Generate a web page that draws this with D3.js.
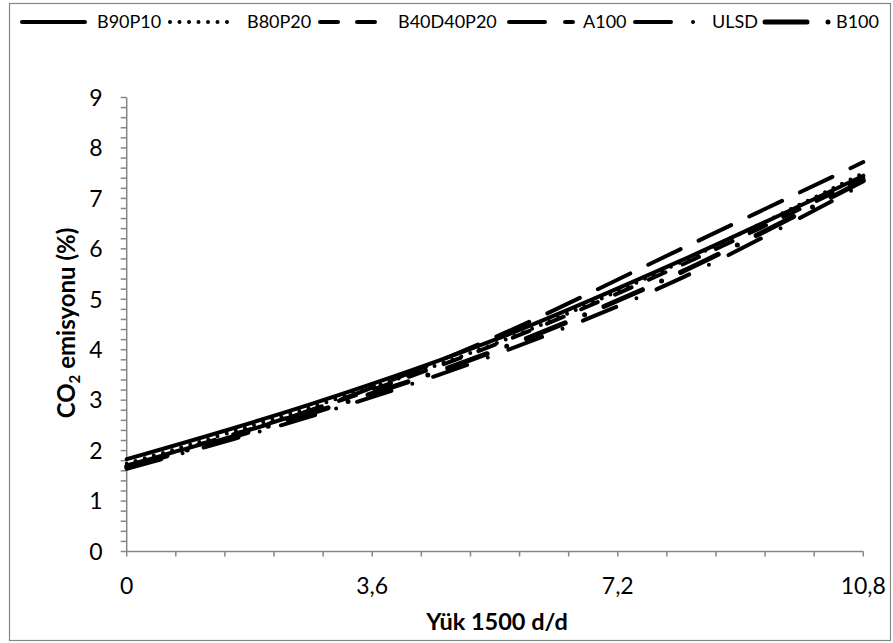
<!DOCTYPE html>
<html>
<head>
<meta charset="utf-8">
<script src="https://cdn.jsdelivr.net/npm/d3@7"></script>
<style>
  html, body { margin: 0; padding: 0; background: #fff; }
  svg { display: block; }
  text { font-family: Lato, "Open Sans", sans-serif; fill: #000; }
</style>
</head>
<body>
<svg id="chart" width="893" height="643"></svg>
<script>
// Load points (x axis, "Yük 1500 d/d")
const loads = [0, 2.7, 5.4, 8.1, 10.8];

// CO2 emission (%) per fuel
const b90p10    = [1.83, 2.92, 4.20, 5.75, 7.45];
const b80p20    = [1.74, 2.86, 4.12, 5.72, 7.50];
const b40d40p20 = [1.70, 2.80, 4.10, 5.66, 7.40];
const a100      = [1.70, 2.80, 4.25, 5.98, 7.72];
const ulsd      = [1.64, 2.68, 3.90, 5.40, 7.28];
const b100      = [1.67, 2.74, 3.98, 5.52, 7.35];

const seriesNames = ["B90P10", "B80P20", "B40D40P20", "A100", "ULSD", "B100"];
const seriesValues = [b90p10, b80p20, b40d40p20, a100, ulsd, b100];

const xTicks = [0, 3.6, 7.2, 10.8];
const yTicks = [0, 1, 2, 3, 4, 5, 6, 7, 8, 9];

// Line styles for each series
const styles = [
  { width: 4, dash: null },
  { width: 4, dash: "0,9.5" },
  { width: 4, dash: "18,19" },
  { width: 4, dash: "36,20" },
  { width: 4, dash: "36,22,0,22" },
  { width: 5, dash: "42,21,0,21" }
];

const svg = d3.select("#chart");
const grey = "#868686";

// outer frame
svg.append("rect")
  .attr("x", 9.5).attr("y", 3.5)
  .attr("width", 881).attr("height", 637)
  .attr("fill", "#fff").attr("stroke", grey).attr("stroke-width", 1.2);

const plot = { left: 126.7, right: 863.3, top: 97.5, bottom: 551.5 };

const x = d3.scaleLinear().domain([0, 10.8]).range([plot.left, plot.right]);
const y = d3.scaleLinear().domain([0, 9]).range([plot.bottom, plot.top]);

const locale = d3.formatLocale({ decimal: ",", thousands: ".", grouping: [3], currency: ["", ""] });
const fmt = locale.format("~g");

// y axis with minor ticks every 0.2
const yMinor = d3.range(0, 9.0001, 0.2);
const yAxis = svg.append("g").attr("transform", `translate(${plot.left},0)`);
yAxis.append("line")
  .attr("x1", 0).attr("x2", 0).attr("y1", y(0)).attr("y2", y(9))
  .attr("stroke", grey).attr("stroke-width", 1.5);
yAxis.selectAll("line.tick").data(yMinor).join("line")
  .attr("class", "tick")
  .attr("x1", -6).attr("x2", 0)
  .attr("y1", d => y(d)).attr("y2", d => y(d))
  .attr("stroke", grey).attr("stroke-width", 1.5);
yAxis.selectAll("text").data(yTicks).join("text")
  .attr("x", -24).attr("y", d => y(d))
  .attr("dy", "0.36em")
  .attr("text-anchor", "end")
  .attr("font-size", 23)
  .text(d => fmt(d));

// x axis with minor ticks every 0.72
const xMinor = d3.range(0, 16).map(i => i * 0.72);
const xAxis = svg.append("g").attr("transform", `translate(0,${plot.bottom})`);
xAxis.append("line")
  .attr("x1", x(0)).attr("x2", x(10.8)).attr("y1", 0).attr("y2", 0)
  .attr("stroke", grey).attr("stroke-width", 1.5);
xAxis.selectAll("line.tick").data(xMinor).join("line")
  .attr("class", "tick")
  .attr("x1", d => x(d)).attr("x2", d => x(d))
  .attr("y1", 0).attr("y2", 5)
  .attr("stroke", grey).attr("stroke-width", 1.5);
xAxis.selectAll("text").data(xTicks).join("text")
  .attr("x", d => x(d)).attr("y", 42)
  .attr("text-anchor", "middle")
  .attr("font-size", 23)
  .text(d => fmt(d));

// axis titles
svg.append("text")
  .attr("x", (plot.left + plot.right) / 2 + 2).attr("y", 630)
  .attr("text-anchor", "middle")
  .attr("font-size", 23.5).attr("font-weight", "bold")
  .text("Yük 1500 d/d");

const yTitle = svg.append("text")
  .attr("transform", "translate(75,323) rotate(-90)")
  .attr("text-anchor", "middle")
  .attr("font-size", 24).attr("font-weight", "bold");
yTitle.append("tspan").text("CO");
yTitle.append("tspan").attr("font-size", 15).attr("dy", 5).text("2");
yTitle.append("tspan").attr("dy", -5).text(" emisyonu (%)");

// series lines
const line = d3.line()
  .x((d, i) => x(loads[i]))
  .y(d => y(d))
  .curve(d3.curveCatmullRom.alpha(0.5));

const lines = svg.append("g");
seriesValues.forEach((vals, i) => {
  lines.append("path")
    .datum(vals)
    .attr("d", line)
    .attr("fill", "none")
    .attr("stroke", "#000")
    .attr("stroke-width", styles[i].width)
    .attr("stroke-linecap", "round")
    .attr("stroke-linejoin", "round")
    .attr("stroke-dasharray", styles[i].dash);
});

// legend: one row across the top
const legendX = [20, 168, 318, 507, 633, 763];
const legendLen = [63, 63, 58, 64, 60, 64];
const legendTextX = [97, 247, 398, 583, 712, 836];
const legendY = 22;
const legend = svg.append("g");
seriesNames.forEach((name, i) => {
  legend.append("line")
    .attr("x1", legendX[i] + 2).attr("x2", legendX[i] + 2 + legendLen[i])
    .attr("y1", legendY).attr("y2", legendY)
    .attr("stroke", "#000")
    .attr("stroke-width", styles[i].width)
    .attr("stroke-linecap", "round")
    .attr("stroke-dasharray", styles[i].dash);
  legend.append("text")
    .attr("x", legendTextX[i]).attr("y", legendY)
    .attr("dy", "0.36em")
    .attr("font-size", 18)
    .text(name);
});
</script>
</body>
</html>
